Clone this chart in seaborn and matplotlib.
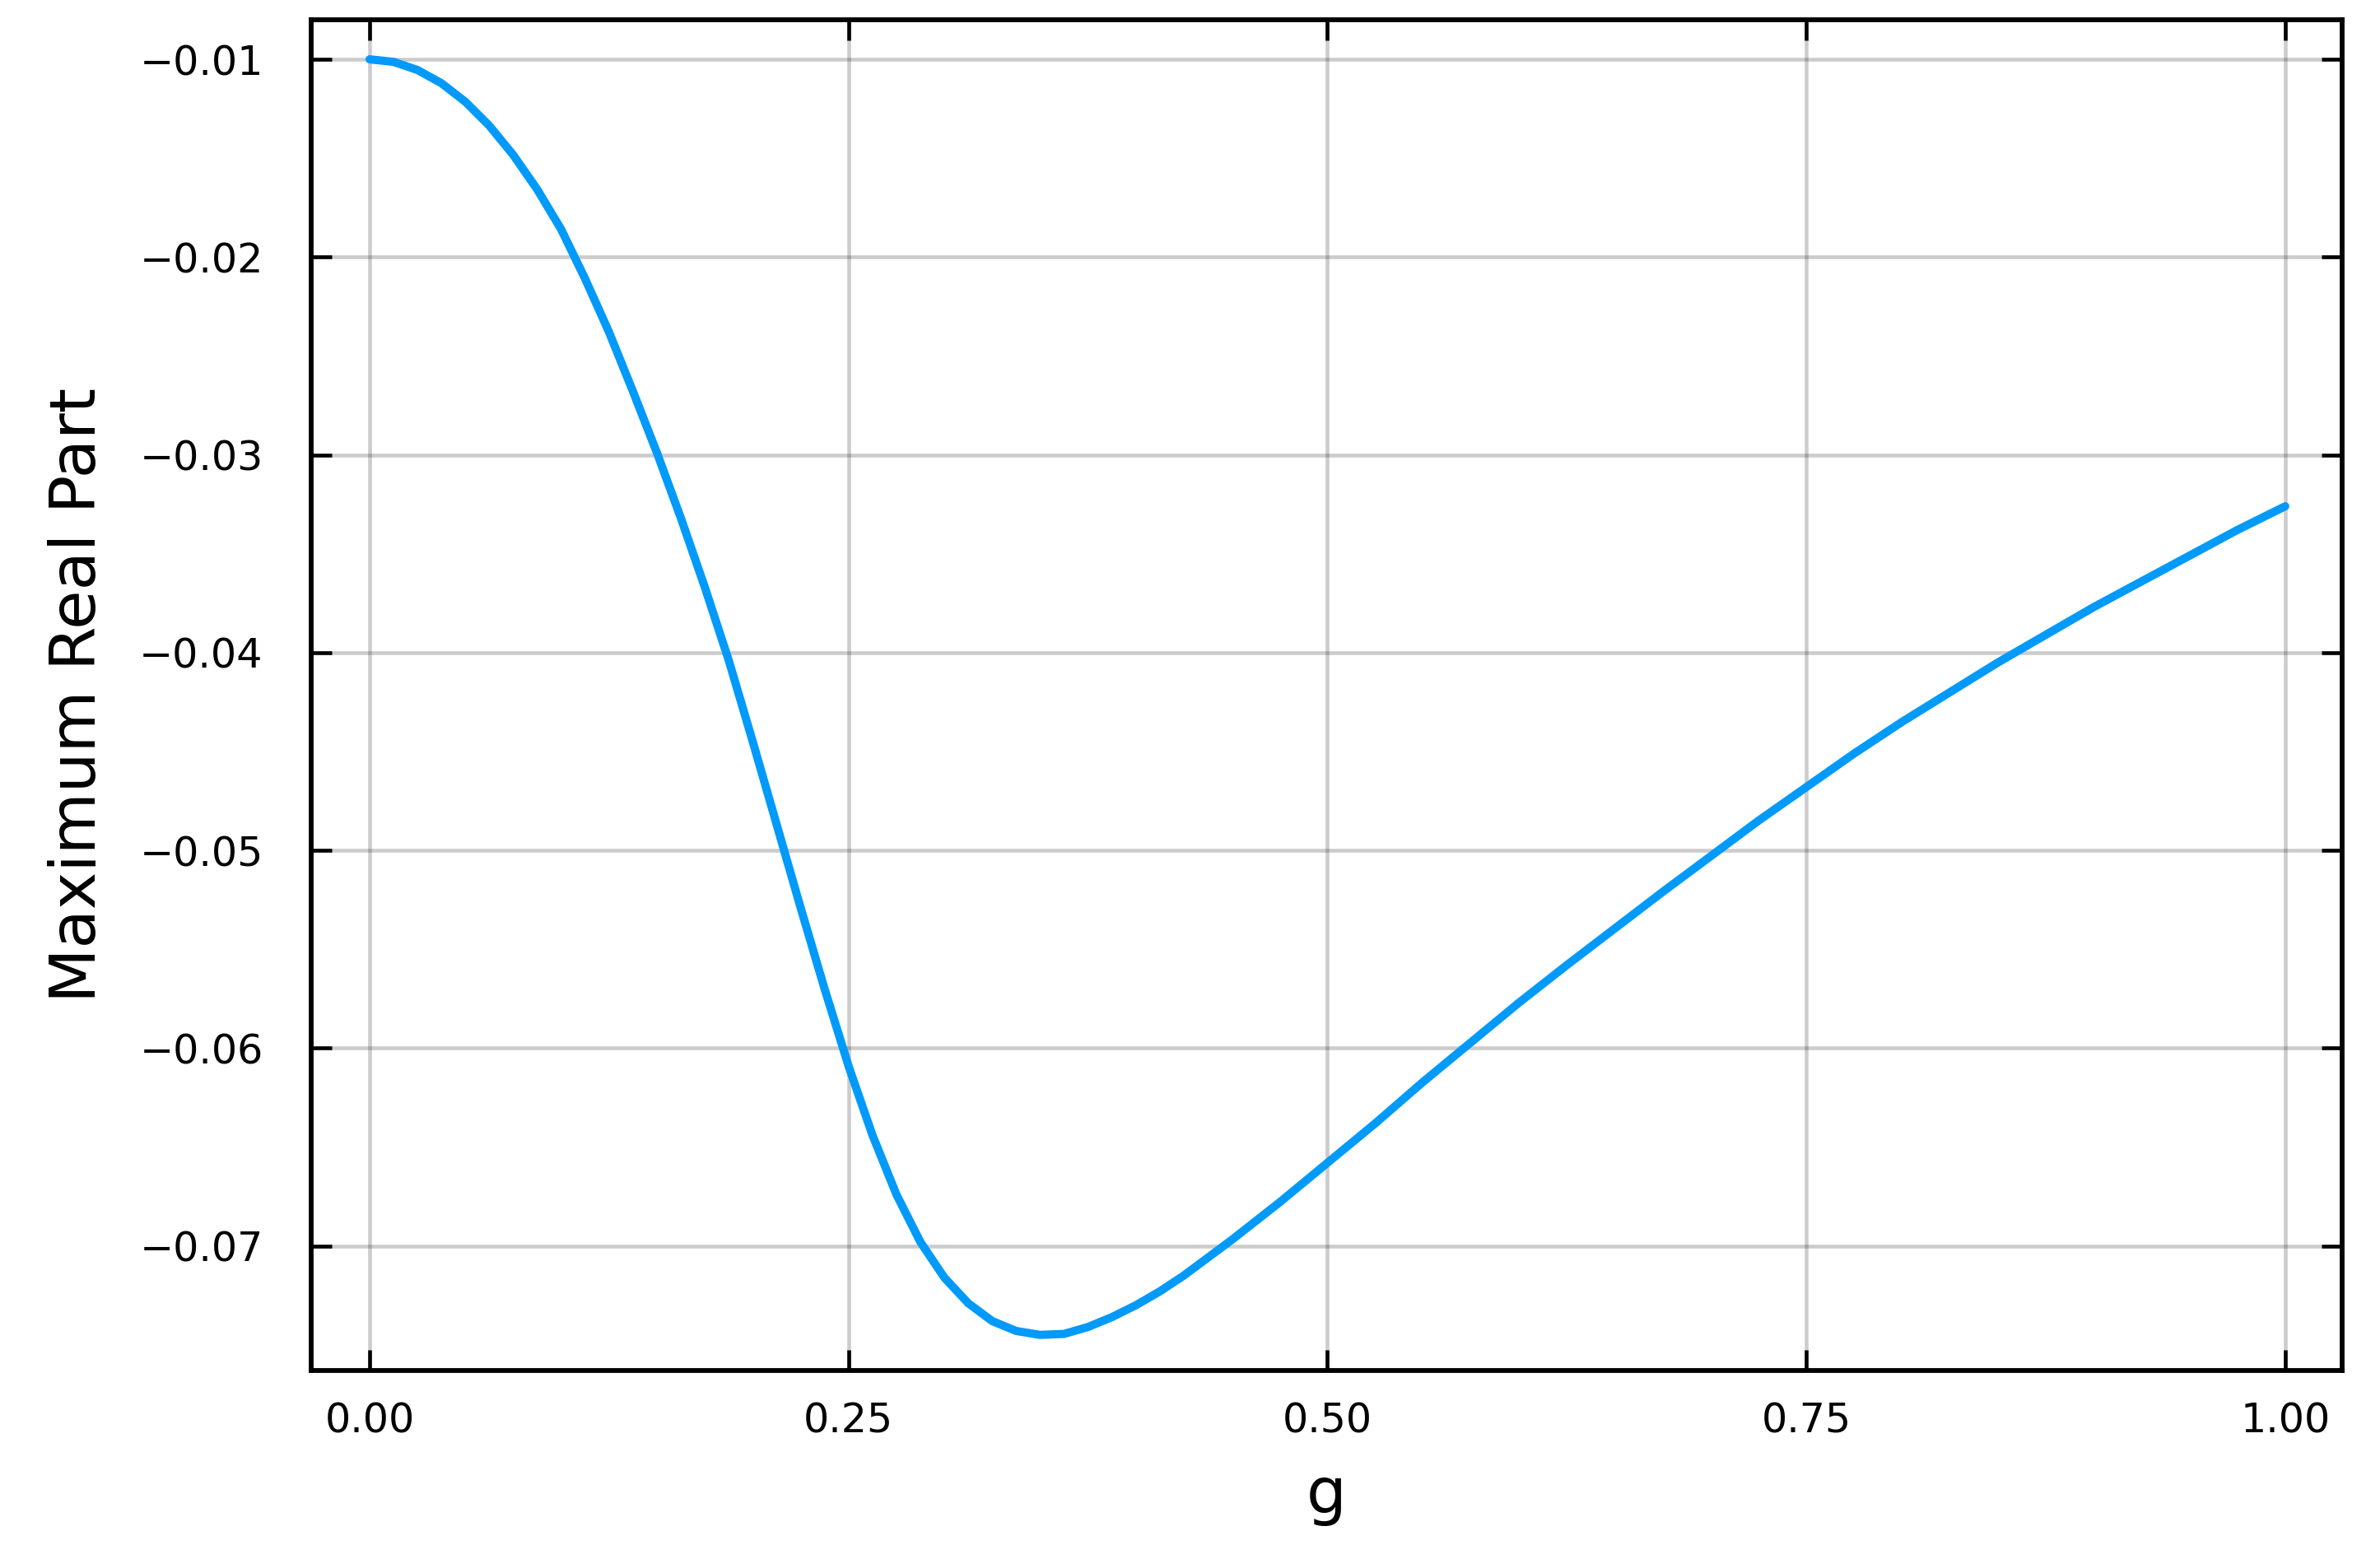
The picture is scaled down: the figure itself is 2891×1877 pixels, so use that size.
import numpy as np
import pandas as pd
import matplotlib
matplotlib.use("Agg")
import matplotlib.pyplot as plt
import seaborn as sns

# values (g, maximum real part)
g_values = [0.0, 0.0125, 0.025, 0.0375, 0.05, 0.0625, 0.075, 0.0875, 0.1, 0.1125,
            0.125, 0.1375, 0.15, 0.1625, 0.175, 0.1875, 0.2, 0.2125, 0.225, 0.2375,
            0.25, 0.2625, 0.275, 0.2875, 0.3, 0.3125, 0.325, 0.3375, 0.35, 0.3625,
            0.375, 0.3875, 0.4, 0.4125, 0.425, 0.4375, 0.45, 0.475, 0.5, 0.525,
            0.55, 0.575, 0.6, 0.625, 0.65, 0.675, 0.7, 0.725, 0.75, 0.775,
            0.8, 0.825, 0.85, 0.875, 0.9, 0.925, 0.95, 0.975, 1.0]
max_real = [-0.0100, -0.01013, -0.01054, -0.01121, -0.01215, -0.01336, -0.01484, -0.01658, -0.0186, -0.0211,
            -0.0238, -0.0268, -0.0299, -0.0332, -0.0367, -0.0404, -0.0445, -0.0487, -0.0529, -0.0570,
            -0.0609, -0.0644, -0.0674, -0.0698, -0.0716, -0.0729, -0.0738, -0.0743, -0.0745, -0.07445,
            -0.0741, -0.0736, -0.0730, -0.0723, -0.0715, -0.0706, -0.0697, -0.0678, -0.0658, -0.0638,
            -0.0617, -0.0597, -0.0577, -0.0558, -0.05395, -0.0521, -0.0503, -0.0485, -0.0468, -0.0451,
            -0.0435, -0.0420, -0.0405, -0.0391, -0.0377, -0.0364, -0.0351, -0.0338, -0.0326]

x_ticks = [0.0, 0.25, 0.5, 0.75, 1.0]
y_ticks = [-0.07, -0.06, -0.05, -0.04, -0.03, -0.02, -0.01]

df = pd.DataFrame({'g': g_values, 'max_real': max_real})

sns.set_style('white')
plt.rcParams['font.family'] = ['DejaVu Sans']

fig = plt.figure(figsize=(2891 / 300, 1877 / 300), dpi=300)
ax = fig.add_axes([378 / 2891, 1 - 1665 / 1877, (2845 - 378) / 2891, (1665 - 24) / 1877])

sns.lineplot(data=df, x='g', y='max_real', ax=ax, color='#009AFA',
             linewidth=2.4, solid_capstyle='round', solid_joinstyle='round', sort=False)

ax.set_xlim(-0.0305, 1.0297)
ax.set_ylim(-0.0763, -0.0080)
ax.set_xticks(x_ticks)
ax.set_yticks(y_ticks)
ax.set_xticklabels([f'{t:.2f}' for t in x_ticks])
ax.set_yticklabels([f'\u2212{abs(t):.2f}' for t in y_ticks])

# plots.jl look: light grid, ticks inside on all sides, full frame
ax.grid(True, color='black', alpha=0.2, linewidth=1.1)
ax.set_axisbelow(True)
for side in ['left', 'right', 'top', 'bottom']:
    ax.spines[side].set_visible(True)
    ax.spines[side].set_color('black')
    ax.spines[side].set_linewidth(1.4)
ax.tick_params(axis='both', which='major', direction='in', length=6, width=1.1,
               top=True, right=True, bottom=True, left=True,
               labelsize=11.8, colors='black', labelcolor='black')
ax.tick_params(axis='y', pad=14)
ax.tick_params(axis='x', pad=9)

ax.set_xlabel('g', fontsize=18.5, labelpad=7, color='black')
ax.set_ylabel('Maximum Real Part', fontsize=18.5, labelpad=9, color='black')

fig.savefig('out.png', dpi=300)
